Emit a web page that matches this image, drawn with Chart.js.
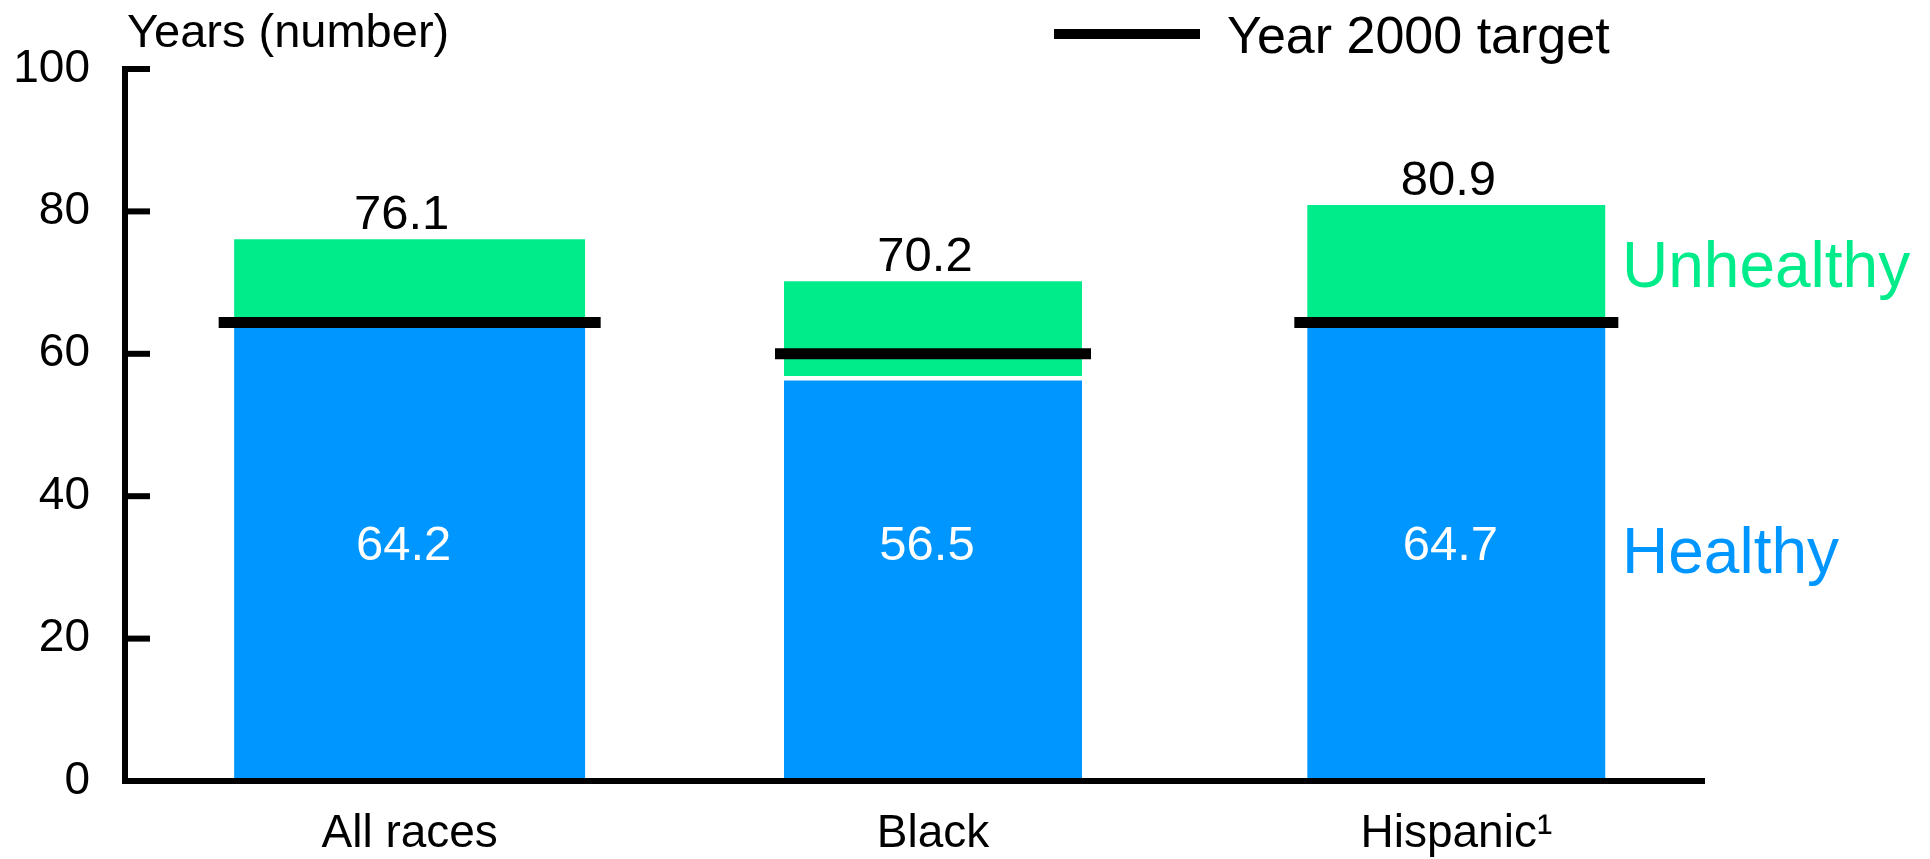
<!DOCTYPE html>
<html>
<head>
<meta charset="utf-8">
<title>Years of healthy life</title>
<script src="https://cdn.jsdelivr.net/npm/chart.js@4.4.1/dist/chart.umd.min.js"></script>
<style>
  body { margin: 0; background: #fff; }
  canvas { display: block; }
</style>
</head>
<body>
<canvas id="chart" width="1930" height="859"></canvas>
<script>
// Values
const categories = ['All races', 'Black', 'Hispanic\u00b9'];
const totalYears = [76.1, 70.2, 80.9];
const healthyYears = [64.2, 56.5, 64.7];
const targetYears = [64.4, 60, 64.4];
const yTicks = [0, 20, 40, 60, 80, 100];

const unhealthyYears = totalYears.map((t, i) => +(t - healthyYears[i]).toFixed(1));

const GREEN = '#00EB8A';
const BLUE = '#0096FF';
const FONT = '"Liberation Sans", Arial, sans-serif';
const barWidths = [351, 298, 298];
const targetHalfLengths = [191, 158, 162];

// one pair of datasets per category, so each bar can keep its own width
function only(values, i) {
    return values.map((v, j) => (j === i ? v : null));
}

const datasets = [];
categories.forEach((c, i) => {
    datasets.push({
        label: 'Healthy',
        data: only(healthyYears, i),
        backgroundColor: BLUE,
        borderColor: '#fff',
        borderWidth: { top: 2, left: 0, right: 0, bottom: 0 },
        borderSkipped: false,
        barThickness: barWidths[i],
        stack: 'years',
        order: 2
    });
    datasets.push({
        label: 'Unhealthy',
        data: only(unhealthyYears, i),
        backgroundColor: GREEN,
        borderColor: '#fff',
        borderWidth: { top: 0, left: 0, right: 0, bottom: 3 },
        borderSkipped: false,
        barThickness: barWidths[i],
        stack: 'years',
        order: 2
    });
});
datasets.push({
    type: 'line',
    label: 'Year 2000 target',
    data: targetYears,
    showLine: false,
    clip: false,
    pointStyle: 'line',
    pointRadius: targetHalfLengths,
    pointHoverRadius: targetHalfLengths,
    pointBorderWidth: 11,
    pointBorderColor: '#000',
    pointBackgroundColor: '#000',
    borderColor: '#000',
    stack: 'target',
    order: 1
});

// axes, legend and the text labels
const decorations = {
    id: 'decorations',
    afterDraw(chart) {
        const ctx = chart.ctx;
        const y = chart.scales.y;
        const axisX = 125;
        const axisEnd = 1705;
        const y0 = y.getPixelForValue(0);
        const yTop = y.getPixelForValue(100);

        ctx.save();
        ctx.fillStyle = '#000';
        ctx.fillRect(axisX - 3, yTop - 3, 6, y0 - yTop + 6);
        yTicks.forEach(v => {
            ctx.fillRect(axisX, y.getPixelForValue(v) - 3, 25, 6);
        });
        ctx.fillRect(axisX - 3, y0 - 3, axisEnd - axisX + 3, 6);

        // value labels
        ctx.textAlign = 'center';
        ctx.textBaseline = 'alphabetic';
        ctx.font = '49px ' + FONT;
        categories.forEach((c, i) => {
            const bar = chart.getDatasetMeta(i * 2 + 1).data[i];
            ctx.fillStyle = '#000';
            ctx.fillText(totalYears[i].toFixed(1), bar.x - 8, y.getPixelForValue(totalYears[i]) - 10);
            ctx.fillStyle = '#fff';
            ctx.fillText(healthyYears[i].toFixed(1), bar.x - 6, y.getPixelForValue(33.6) + 18);
        });

        ctx.textAlign = 'left';
        ctx.fillStyle = '#000';
        ctx.font = '47px ' + FONT;
        ctx.fillText('Years (number)', 127, 47);

        ctx.fillRect(1054, 29, 146, 10);
        ctx.font = '52px ' + FONT;
        ctx.fillText('Year 2000 target', 1227, 53);

        ctx.font = '64px ' + FONT;
        ctx.fillStyle = GREEN;
        ctx.fillText('Unhealthy', 1622, 287);
        ctx.fillStyle = BLUE;
        ctx.fillText('Healthy', 1622, 573);
        ctx.restore();
    }
};

function noScalePadding(s) {
    s.paddingTop = 0;
    s.paddingBottom = 0;
    s.paddingLeft = 0;
    s.paddingRight = 0;
}

new Chart(document.getElementById('chart'), {
    type: 'bar',
    data: { labels: categories, datasets: datasets },
    options: {
        responsive: false,
        animation: false,
        devicePixelRatio: 1,
        layout: { autoPadding: false, padding: { top: 69, right: 212, left: 0, bottom: 0 } },
        plugins: {
            legend: { display: false },
            tooltip: { enabled: false }
        },
        scales: {
            x: {
                stacked: true,
                grid: { display: false, drawTicks: false },
                border: { display: false },
                ticks: { color: '#000', font: { family: FONT, size: 46 }, padding: 26 },
                afterFit: s => { s.height = 78; noScalePadding(s); }
            },
            y: {
                stacked: true,
                min: 0,
                max: 100,
                grid: { display: false, drawTicks: false },
                border: { display: false },
                afterBuildTicks: s => { s.ticks = yTicks.map(v => ({ value: v })); },
                ticks: { color: '#000', font: { family: FONT, size: 46 }, padding: 58 },
                afterFit: s => { s.width = 148; noScalePadding(s); }
            }
        }
    },
    plugins: [decorations]
});
</script>
</body>
</html>
